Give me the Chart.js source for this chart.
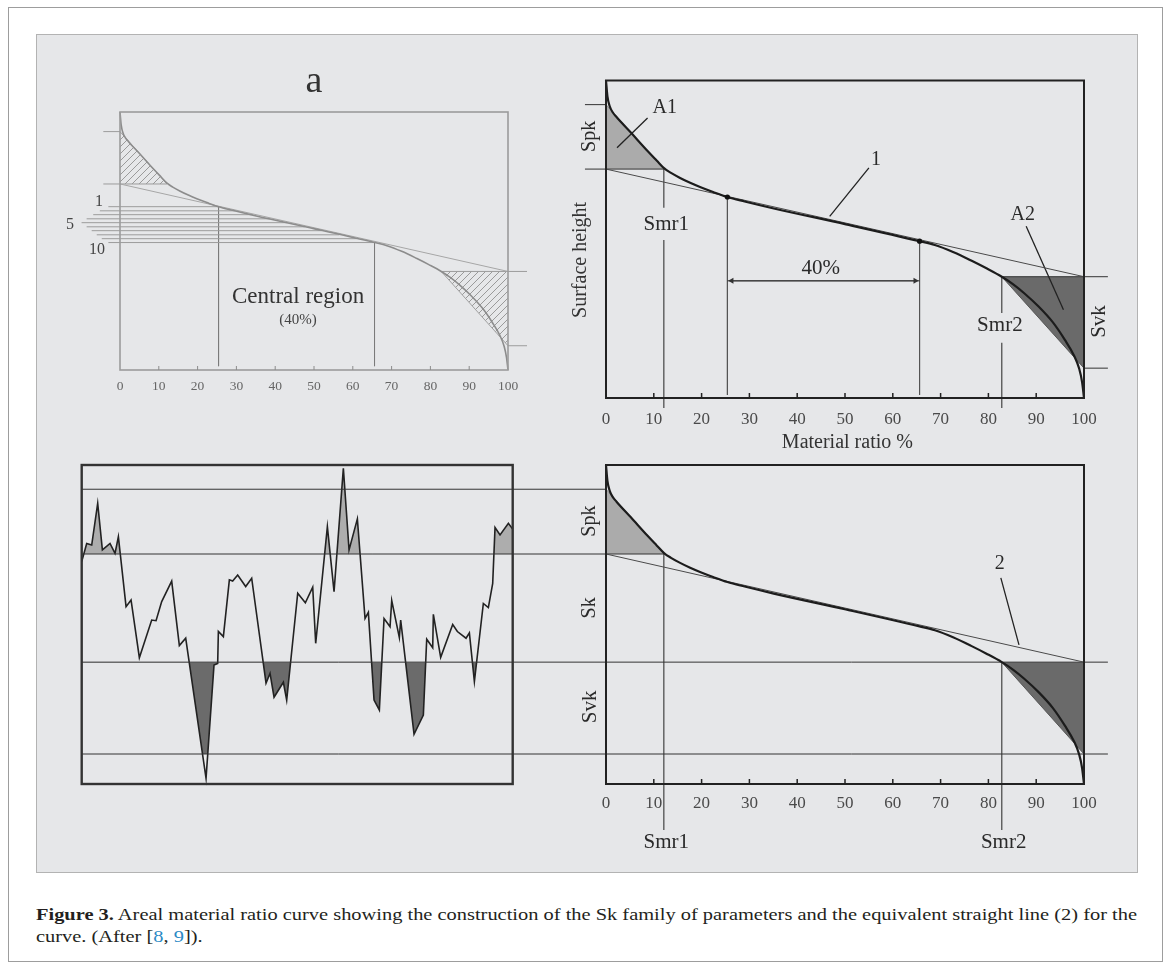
<!DOCTYPE html>
<html><head><meta charset="utf-8">
<script src="https://cdn.jsdelivr.net/npm/chart.js@4.4.1/dist/chart.umd.min.js"></script>
<style>
body{margin:0;background:#fff;width:1171px;height:969px;position:relative;overflow:hidden;font-family:"Liberation Serif","Times New Roman",Tinos,"DejaVu Serif",serif}
#outer{position:absolute;left:8px;top:7px;width:1153px;height:953px;border:1.5px solid #9d9d9d}
#panel{position:absolute;left:36px;top:34px;width:1100px;height:837px;background:#e6e7e9;border:1.5px solid #b3b3b3}
canvas{position:absolute}
#cap{position:absolute;left:36px;top:904px;font-size:16px;line-height:22px;color:#231f20}
#cap div{white-space:nowrap;transform-origin:0 0}
.ref{color:#2b8ac6}
</style></head><body>
<div id="outer"></div><div id="panel"></div>
<canvas id="cA" width="480" height="340" style="left:60px;top:60px"></canvas>
<canvas id="cB" width="580" height="400" style="left:560px;top:60px"></canvas>
<canvas id="cC" width="460" height="340" style="left:70px;top:455px"></canvas>
<canvas id="cD" width="1070" height="400" style="left:70px;top:455px"></canvas>
<div id="cap">
<div id="l1"><b>Figure 3.</b> Areal material ratio curve showing the construction of the Sk family of parameters and the equivalent straight line (2) for the</div>
<div id="l2">curve. (After [<span class="ref">8</span>, <span class="ref">9</span>]).</div>
</div>
<script>
// ---------- data ----------
const ticksX = [0,10,20,30,40,50,60,70,80,90,100];
// bearing (material ratio) curve, x = material ratio %, y = relative height %
const curveX = [0, 0.3, 0.8, 1.4, 2.2, 5.2, 8.7, 10.6, 12.2, 13.6, 15.4, 17.6, 19.8, 22.4, 25.4, 29, 35.1, 50.2, 65.6, 68.8, 72.6, 76.4, 79.6, 82.8, 85.2, 87.5, 90.5, 93.5, 96, 97.9, 99.0, 99.6, 100];
const curveY = [100, 95, 91.8, 90, 88.5, 83.6, 77.8, 74.8, 72.3, 70.9, 69.4, 67.8, 66.4, 64.9, 63.3, 61.9, 59.7, 54.7, 49.4, 48.2, 46.0, 43.3, 40.85, 38.2, 35.8, 33.0, 28.8, 23.8, 18.3, 13.4, 9.2, 5, 0];
// levels: Spk top, Spk bottom (= Sk top), Svk top (= Sk bottom), Svk bottom
const levelY = [92.4, 72.1, 38.2, 9.4];
const smrX = [12.1, 82.8];
// equivalent straight line at x = 0 and x = 100
const equivY = [72.1, 38.2];
// central 40% region
const centralX = [25.4, 65.6];
const centralY = [63.3, 49.4];
// the 10 secant lines in panel a
const secantY = [63.3, 61.7, 60.2, 58.6, 57.1, 55.5, 54.0, 52.4, 50.9, 49.4];
const secantStartX = [-3.0, -5.2, -6.9, -8.6, -9.9, -8.6, -7.3, -6.0, -4.7, -3.0];
const secantEndX = [25.4, 29.8, 34.3, 38.7, 43.1, 47.6, 52.0, 56.5, 61.0, 65.6];
// surface profile
const profileX = [0,1.16,2.32,3.71,4.80,6.57,7.73,8.51,10.29,11.45,13.38,16.24,17.25,18.56,20.88,22.66,24.13,28.85,30.70,31.55,31.71,32.87,34.26,35.03,36.19,38.05,39.44,42.77,43.70,44.63,46.79,47.56,50.12,51.89,53.60,54.29,57.00,58.55,60.71,62.03,63.96,65.74,66.51,67.83,69.06,70.15,71.54,71.93,73.70,74.01,77.11,79.27,80.05,81.44,81.59,83.29,86.08,87.16,89.17,89.95,91.11,93.19,94.35,95.36,95.90,97.06,99.0,100];
const profileY = [69.7,75.4,74.9,88.0,73.4,75.4,72.3,77.5,55.6,57.7,39.6,51.4,51.2,57.2,63.6,43.4,45.7,1.8,37.3,37.8,47.8,46.2,64.0,63.6,65.5,61.9,64.5,31.6,34.7,27.2,31.9,26.3,59.8,56.8,61.7,44.1,80.7,60.3,99.0,73.4,83.1,51.9,53.8,26.3,23.2,51.9,49.3,57.5,45.9,51.4,15.6,21.6,45.4,42.7,53.2,39.7,50.0,47.8,45.7,47.4,32.1,56.6,55.3,62.9,80.4,78.1,81.7,79.9];

// ---------- helpers ----------
const FONT = '"Liberation Serif","Times New Roman",Tinos,"DejaVu Serif",serif';
const P = (x, y) => ({x, y});
const pts = (xs, ys) => xs.map((x, i) => P(x, ys[i]));
const seg = (x0, y0, x1, y1) => [P(x0, y0), P(x1, y1)];
function ln(data, color, width, extra) {
  return Object.assign({data, borderColor: color, borderWidth: width, pointRadius: 0, fill: false, tension: 0, clip: false}, extra || {});
}
const curve = pts(curveX, curveY);
const equiv = seg(0, equivY[0], 100, equivY[1]);

const deco = {
  id: 'deco',
  afterDatasetsDraw(chart, args, o) {
    const ctx = chart.ctx, X = chart.scales.x, Y = chart.scales.y;
    const px = v => X.getPixelForValue(v), py = v => Y.getPixelForValue(v);
    ctx.save();
    if (o.box) {
      ctx.strokeStyle = o.box.color; ctx.lineWidth = o.box.width;
      ctx.strokeRect(px(0), py(100), px(100) - px(0), py(0) - py(100));
    }
    if (o.ticks) {
      ctx.strokeStyle = o.ticks.color; ctx.lineWidth = o.ticks.width;
      ctx.beginPath();
      ticksX.forEach(v => { if (v > 0 && v < 100) { ctx.moveTo(px(v), py(0)); ctx.lineTo(px(v), py(0) - o.ticks.len); } });
      ctx.stroke();
    }
    (o.texts || []).forEach(t => {
      ctx.save();
      ctx.translate(px(t.x), py(t.y));
      if (t.rot) ctx.rotate(t.rot * Math.PI / 180);
      ctx.font = t.size + 'px ' + FONT;
      ctx.fillStyle = t.color || '#2a2a2a';
      ctx.textAlign = 'center'; ctx.textBaseline = 'middle';
      ctx.fillText(t.t, 0, 0);
      ctx.restore();
    });
    ctx.restore();
  }
};

// layout: canvas page rect + page rect of the 0..100 box
function makeChart(id, L, datasets, decoOpts, axis) {
  const cv = document.getElementById(id);
  const W = cv.width, H = cv.height;
  const kx = (L.bx1 - L.bx0) / 100, ky = (L.by1 - L.by0) / 100;
  const xmin = -(L.bx0 - L.cx) / kx, xmax = 100 + (L.cx + W - L.bx1) / kx;
  const ymax = (L.by1 - L.cy) / ky;
  const below = H - (L.by1 - L.cy);
  const xScale = {type: 'linear', min: xmin, max: xmax, display: !!axis,
    grid: {display: false, drawTicks: false}, border: {display: false},
    afterBuildTicks: s => { s.ticks = ticksX.map(v => ({value: v})); },
    afterFit: s => { s.height = axis ? below : 0; },
    ticks: axis ? {font: {family: FONT, size: axis.size}, color: axis.color, padding: axis.pad, maxRotation: 0, autoSkip: false} : {}
  };
  return new Chart(cv, {
    type: 'line',
    data: {datasets},
    options: {
      responsive: false, animation: false, devicePixelRatio: 1, events: [],
      layout: {autoPadding: false, padding: {left: 0, right: 0, top: 0, bottom: axis ? 0 : below}},
      scales: {x: xScale, y: {type: 'linear', min: 0, max: ymax, display: false, afterFit: s => { s.width = 0; }}},
      plugins: {legend: {display: false}, tooltip: {enabled: false}, title: {display: false}, deco: decoOpts}
    },
    plugins: [deco]
  });
}

function hatch(canvasId, color) {
  const c = document.createElement('canvas'); c.width = 7; c.height = 7;
  const g = c.getContext('2d'); g.strokeStyle = color; g.lineWidth = 1;
  g.beginPath(); g.moveTo(0, 7); g.lineTo(7, 0); g.moveTo(-1, 1); g.lineTo(1, -1); g.moveTo(6, 8); g.lineTo(8, 6); g.stroke();
  return document.getElementById(canvasId).getContext('2d').createPattern(c, 'repeat');
}

// ---------- panel a (top-left) ----------
const patA = hatch('cA', '#9a9a9a');
const dsA = [
  ln(curve, '#8c8c8c', 1.6, {cubicInterpolationMode: 'monotone'}),
  ln(equiv, '#a6a6a6', 1),
  ...secantY.map((y, i) => ln(seg(secantStartX[i], y, secantEndX[i], y), '#9c9c9c', 1)),
  ln(seg(-4.3, levelY[0], 0, levelY[0]), '#9c9c9c', 1),
  ln(seg(-4.3, levelY[1], smrX[0], levelY[1]), '#9c9c9c', 1),
  ln(seg(smrX[1], levelY[2], 104.9, levelY[2]), '#9c9c9c', 1),
  ln(seg(100, levelY[3], 104.9, levelY[3]), '#9c9c9c', 1),
  ln(seg(centralX[0], centralY[0], centralX[0], 1.5), '#7a7a7a', 1),
  ln(seg(centralX[1], centralY[1], centralX[1], 1.5), '#7a7a7a', 1),
  ln(seg(0, levelY[0], smrX[0], levelY[1]), '#a0a0a0', 1, {fill: {target: {value: levelY[1]}, above: patA, below: patA}}),
  ln(seg(smrX[1], levelY[2], 100, levelY[3]), '#a0a0a0', 1, {fill: {target: {value: levelY[2]}, above: patA, below: patA}})
];
makeChart('cA', {cx: 60, cy: 60, bx0: 120, bx1: 508, by0: 112, by1: 370}, dsA, {
  box: {color: '#9c9c9c', width: 1.6},
  ticks: {color: '#8c8c8c', width: 1, len: 4},
  texts: [
    {t: 'a', x: 50, y: 111.5, size: 38, color: '#333'},
    {t: 'Central region', x: 45.9, y: 28.3, size: 23, color: '#333'},
    {t: '(40%)', x: 45.9, y: 19.4, size: 15, color: '#444'},
    {t: '1', x: -5.4, y: 65.1, size: 16, color: '#444'},
    {t: '5', x: -12.9, y: 56.2, size: 16, color: '#444'},
    {t: '10', x: -5.9, y: 46.5, size: 16, color: '#444'}
  ]
}, {size: 13.5, color: '#666', pad: 8});

// ---------- top-right ----------
const dsB = [
  ln(pts(centralX, centralY), '#111', 0, {showLine: false, pointRadius: 2.6, pointBackgroundColor: '#111', pointBorderWidth: 0}),
  ln(curve, '#1c1c1c', 2.2, {cubicInterpolationMode: 'monotone'}),
  ln(seg(centralX[0] + 0.9, 36.9, centralX[1] - 0.9, 36.9), '#333', 1, {pointRadius: 3.5, pointStyle: 'triangle', pointRotation: [-90, 90], pointBackgroundColor: '#333', pointBorderWidth: 0}),
  ln(seg(centralX[0], 36.9, centralX[1], 36.9), '#333', 1),
  ln(equiv, '#4a4a4a', 1),
  ln(seg(8.7, 88.2, 2.3, 78.8), '#222', 1.3),
  ln(seg(55, 72.5, 46.8, 57.2), '#222', 1.3),
  ln(seg(87.9, 54.1, 95.7, 27.8), '#222', 1.3),
  ln(seg(-4.4, levelY[0], 0, levelY[0]), '#333', 1),
  ln(seg(-4.4, levelY[1], smrX[0], levelY[1]), '#333', 1),
  ln(seg(smrX[1], levelY[2], 105, levelY[2]), '#333', 1),
  ln(seg(100, levelY[3], 105, levelY[3]), '#333', 1),
  ln(seg(smrX[0], levelY[1], smrX[0], 59.9), '#444', 1.2),
  ln(seg(smrX[0], 49.8, smrX[0], -3.15), '#444', 1.2),
  ln(seg(smrX[1], levelY[2], smrX[1], 26.8), '#444', 1.2),
  ln(seg(smrX[1], 17.4, smrX[1], -3.15), '#444', 1.2),
  ln(seg(centralX[0], centralY[0], centralX[0], 0.95), '#555', 1),
  ln(seg(centralX[1], centralY[1], centralX[1], 0.95), '#555', 1),
  ln(seg(0, levelY[0], smrX[0], levelY[1]), '#8a8a8a', 1, {fill: {target: {value: levelY[1]}, above: '#ababab', below: '#ababab'}}),
  ln(seg(smrX[1], levelY[2], 100, levelY[3]), '#555', 1, {fill: {target: {value: levelY[2]}, above: '#6a6a6a', below: '#6a6a6a'}})
];
makeChart('cB', {cx: 560, cy: 60, bx0: 606, bx1: 1084, by0: 80.5, by1: 398}, dsB, {
  box: {color: '#222', width: 2},
  ticks: {color: '#222', width: 1.5, len: 5},
  texts: [
    {t: 'A1', x: 12.3, y: 91.5, size: 20},
    {t: '1', x: 56.5, y: 75.1, size: 20},
    {t: 'Smr1', x: 12.6, y: 54.6, size: 21},
    {t: 'Smr2', x: 82.4, y: 22.8, size: 21},
    {t: '40%', x: 44.9, y: 40.7, size: 21},
    {t: 'A2', x: 87.2, y: 57.7, size: 20},
    {t: 'Spk', x: -3.35, y: 82.4, size: 20, rot: -90},
    {t: 'Svk', x: 103.3, y: 24.1, size: 21, rot: -90},
    {t: 'Surface height', x: -5.3, y: 43.5, size: 20, rot: -90, color: '#333'},
    {t: 'Material ratio %', x: 50.5, y: -14.2, size: 20, color: '#333'}
  ]
}, {size: 17, color: '#4a4a4a', pad: 11.5});

// ---------- bottom-left profile ----------
const profile = pts(profileX, profileY);
const dsC = [
  ln(profile, '#222', 1.6, {fill: {target: {value: levelY[1]}, above: '#adadad', below: 'rgba(0,0,0,0)'}}),
  ln(profile, 'rgba(0,0,0,0)', 0, {fill: {target: {value: levelY[3]}, above: 'rgba(0,0,0,0)', below: '#eeeeee'}}),
  ln(profile, 'rgba(0,0,0,0)', 0, {fill: {target: {value: levelY[2]}, above: 'rgba(0,0,0,0)', below: '#6b6b6b'}})
];
makeChart('cC', {cx: 70, cy: 455, bx0: 81.7, bx1: 512.7, by0: 465, by1: 784}, dsC, {
  box: {color: '#333', width: 2.4}
}, null);

// ---------- bottom-right ----------
const dsD = [
  ln(curve, '#1c1c1c', 2.2, {cubicInterpolationMode: 'monotone'}),
  ln(equiv, '#4a4a4a', 1),
  ln(seg(82.6, 64.6, 86.4, 43.6), '#222', 1.3),
  ln(seg(-109.6, levelY[0], 0, levelY[0]), '#333', 1),
  ln(seg(-109.6, levelY[1], smrX[0], levelY[1]), '#333', 1),
  ln(seg(-109.6, levelY[2], 105, levelY[2]), '#333', 1),
  ln(seg(-109.6, levelY[3], 105, levelY[3]), '#333', 1),
  ln(seg(smrX[0], levelY[1], smrX[0], -14.4), '#444', 1.2),
  ln(seg(smrX[1], levelY[2], smrX[1], -14.4), '#444', 1.2),
  ln(seg(0, levelY[0], smrX[0], levelY[1]), '#8a8a8a', 1, {fill: {target: {value: levelY[1]}, above: '#ababab', below: '#ababab'}}),
  ln(seg(smrX[1], levelY[2], 100, levelY[3]), '#555', 1, {fill: {target: {value: levelY[2]}, above: '#6a6a6a', below: '#6a6a6a'}})
];
makeChart('cD', {cx: 70, cy: 455, bx0: 606, bx1: 1084, by0: 465, by1: 784}, dsD, {
  box: {color: '#222', width: 2},
  ticks: {color: '#222', width: 1.5, len: 5},
  texts: [
    {t: 'Spk', x: -3.35, y: 82.4, size: 20, rot: -90},
    {t: 'Sk', x: -3.35, y: 55.2, size: 20, rot: -90},
    {t: 'Svk', x: -3.35, y: 24.2, size: 21, rot: -90},
    {t: '2', x: 82.4, y: 69, size: 20},
    {t: 'Smr1', x: 12.6, y: -18.2, size: 21},
    {t: 'Smr2', x: 83.2, y: -18.2, size: 21}
  ]
}, {size: 17, color: '#4a4a4a', pad: 9.5});

// ---------- caption fit ----------
const l1 = document.getElementById('l1'), l2 = document.getElementById('l2');
const sc = 1101 / l1.getBoundingClientRect().width;
l1.style.transform = l2.style.transform = 'scaleX(' + sc + ')';
</script>
</body></html>
